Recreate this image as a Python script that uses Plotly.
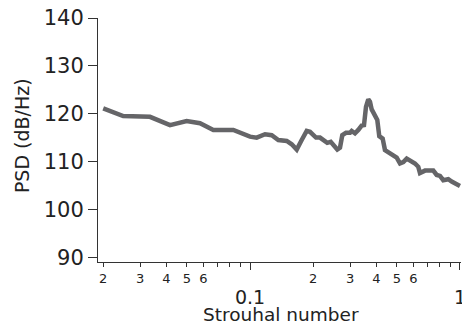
import plotly.graph_objects as go

# Strouhal number (x) and PSD in dB/Hz (y)
strouhal = [0.0200, 0.0249, 0.0334, 0.0416, 0.0499, 0.0578, 0.0669, 0.0833, 0.1000,
            0.1076, 0.1179, 0.1269, 0.1364, 0.1496, 0.1580, 0.1669, 0.1763, 0.1862,
            0.1931, 0.2062, 0.2154, 0.2234, 0.2333, 0.2423, 0.2520, 0.2604, 0.2683,
            0.2751, 0.2865, 0.2994, 0.3050, 0.3162, 0.3279, 0.3402, 0.3490, 0.3567,
            0.3658, 0.3727, 0.3797, 0.3937, 0.4038, 0.4127, 0.4283, 0.4393, 0.4555,
            0.4812, 0.4995, 0.5179, 0.5370, 0.5574, 0.5888, 0.6105, 0.6330, 0.6449,
            0.6813, 0.7463, 0.7745, 0.8031, 0.8326, 0.8797, 0.9130, 0.9645, 1.0000]
psd = [121.1, 119.5, 119.35, 117.6, 118.45, 118.0, 116.6, 116.6, 115.2,
       115.0, 115.7, 115.5, 114.5, 114.3, 113.6, 112.5, 114.5, 116.4,
       116.2, 115.0, 115.0, 114.5, 113.9, 114.1, 113.4, 112.5, 112.9,
       115.5, 116.0, 116.0, 116.4, 115.9, 116.6, 117.5, 117.6, 121.4,
       123.0, 122.5, 120.9, 119.7, 118.7, 115.3, 114.8, 112.4, 112.0,
       111.3, 110.8, 109.6, 109.9, 110.6, 110.1, 109.6, 108.9, 107.6,
       108.1, 108.1, 107.2, 107.0, 106.1, 106.3, 105.8, 105.4, 104.9]

minor_label_vals = [0.02, 0.03, 0.04, 0.05, 0.06, 0.2, 0.3, 0.4, 0.5, 0.6]
minor_label_text = ["2", "3", "4", "5", "6", "2", "3", "4", "5", "6"]
minor_tick_vals = [0.07, 0.08, 0.09, 0.7, 0.8, 0.9]
major_vals = [0.1, 1]
major_text = ["0.1", "1"]
y_ticks = [90, 100, 110, 120, 130, 140]
x_title = "Strouhal number"
y_title = "PSD (dB/Hz)"

FONT = "DejaVu Sans"
AX = "#333333"
TXT = "#222222"
xrange_log = [-1.7238, 0.0048]

fig = go.Figure()
fig.add_trace(go.Scatter(x=strouhal, y=psd, mode="lines",
                         line=dict(color="#656568", width=4.5),
                         showlegend=False, hoverinfo="skip"))
# dummy trace so the overlay axis carrying the decade labels exists
fig.add_trace(go.Scatter(x=major_vals, y=[None, None], xaxis="x2", yaxis="y",
                         mode="lines", showlegend=False, hoverinfo="skip"))

fig.update_layout(
    width=462, height=329,
    margin=dict(l=98, r=1, t=18, b=67),
    paper_bgcolor="white", plot_bgcolor="white",
    font=dict(family=FONT, color=TXT),
    xaxis=dict(type="log", range=xrange_log, showgrid=False, zeroline=False, automargin=False,
               showline=True, linecolor=AX, linewidth=1,
               tickmode="array", tickvals=minor_label_vals, ticktext=minor_label_text,
               ticks="outside", ticklen=4, tickcolor=AX, tickwidth=1,
               tickfont=dict(size=13, family=FONT, color=TXT),
               minor=dict(tickmode="array", tickvals=minor_tick_vals,
                          ticks="outside", ticklen=4, tickcolor=AX, tickwidth=1,
                          showgrid=False)),
    xaxis2=dict(type="log", range=xrange_log, overlaying="x", anchor="y", side="bottom",
                showgrid=False, zeroline=False, showline=False, automargin=False,
                tickmode="array", tickvals=major_vals, ticktext=major_text,
                ticks="outside", ticklen=7, tickcolor=AX, tickwidth=1,
                ticklabelstandoff=11, ticklabeloverflow="allow",
                tickfont=dict(size=19, family=FONT, color=TXT)),
    yaxis=dict(range=[89, 140], showgrid=False, zeroline=False, automargin=False,
               showline=True, linecolor=AX, linewidth=1,
               tickmode="array", tickvals=y_ticks,
               ticks="outside", ticklen=9, tickcolor=AX, tickwidth=1,
               tickfont=dict(size=21, family=FONT, color=TXT)),
    annotations=[
        dict(text=x_title, xref="paper", yref="paper", x=0.503, y=-0.217,
             xanchor="center", yanchor="middle", showarrow=False,
             font=dict(size=18.5, family=FONT, color=TXT)),
        dict(text=y_title, xref="paper", yref="paper", x=-0.2094, y=0.52,
             xanchor="center", yanchor="middle", showarrow=False, textangle=-90,
             font=dict(size=19, family=FONT, color=TXT)),
    ],
)

fig.write_html("out.html", config={"displayModeBar": False},
               post_script="document.body.style.margin='0';document.body.style.overflow='hidden';")
